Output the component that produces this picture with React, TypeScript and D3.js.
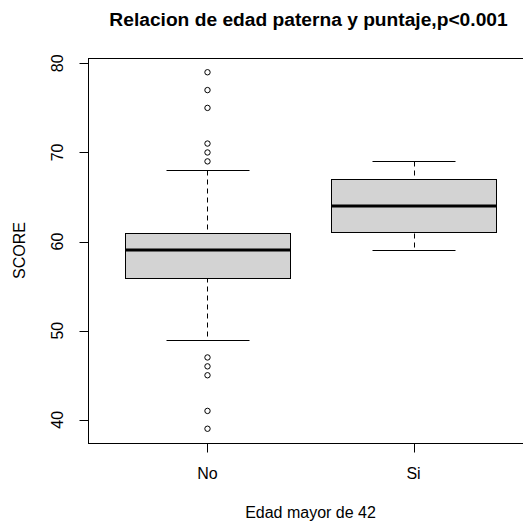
import React from 'react';
import * as d3 from 'd3';

// datos
const groups = ['No', 'Si'];
const whiskerLow = [49, 59];
const q1 = [56, 61];
const medians = [59, 64];
const q3 = [61, 67];
const whiskerHigh = [68, 69];
const outliers = [
  [79, 77, 75, 71, 70, 69, 47, 46, 45, 41, 39],
  [],
];
const yTicks = [40, 50, 60, 70, 80];

const width = 523;
const height = 522;
const left = 88;
const right = 533;
const top = 58;
const bottom = 443;
const font = '"Liberation Sans", Arial, sans-serif';

const App = () => {
  const x = d3.scaleLinear([0.42, 2.58], [left, right]);
  const y = d3.scaleLinear([37.4, 80.6], [bottom, top]);
  const px = (v: number) => Math.round(v) + 0.5;
  const boxHalf = x(1.4) - x(1);
  const capHalf = x(1.2) - x(1);

  return (
    <svg
      width={width}
      height={height}
      style={{ position: 'fixed', left: 0, top: 0, background: '#fff' }}
      fontFamily={font}
    >
      <text x={(left + right) / 2 - 2} y={26} textAnchor="middle" fontSize={19.2} fontWeight="bold" fill="#000">
        Relacion de edad paterna y puntaje,p&lt;0.001
      </text>

      {groups.map((g, i) => {
        const cx = x(i + 1);
        return (
          <g key={g}>
            <line x1={px(cx)} x2={px(cx)} y1={px(y(whiskerHigh[i]))} y2={px(y(q3[i]))} stroke="#000" strokeDasharray="5,4" />
            <line x1={px(cx)} x2={px(cx)} y1={px(y(q1[i]))} y2={px(y(whiskerLow[i]))} stroke="#000" strokeDasharray="5,4" />
            <line x1={px(cx - capHalf)} x2={px(cx + capHalf)} y1={px(y(whiskerHigh[i]))} y2={px(y(whiskerHigh[i]))} stroke="#000" />
            <line x1={px(cx - capHalf)} x2={px(cx + capHalf)} y1={px(y(whiskerLow[i]))} y2={px(y(whiskerLow[i]))} stroke="#000" />
            <rect
              x={px(cx - boxHalf)}
              y={px(y(q3[i]))}
              width={Math.round(2 * boxHalf)}
              height={Math.round(y(q1[i]) - y(q3[i]))}
              fill="#d3d3d3"
              stroke="#000"
            />
            <line x1={px(cx - boxHalf)} x2={px(cx + boxHalf)} y1={Math.round(y(medians[i]))} y2={Math.round(y(medians[i]))} stroke="#000" strokeWidth={3} />
            {outliers[i].map((v, j) => (
              <circle key={j} cx={cx} cy={y(v)} r={2.7} fill="none" stroke="#000" />
            ))}
          </g>
        );
      })}

      {/* marco */}
      <rect x={px(left)} y={px(top)} width={Math.round(right - left)} height={Math.round(bottom - top)} fill="none" stroke="#000" />

      {/* eje y */}
      {yTicks.map((t) => (
        <g key={t}>
          <line x1={px(left) - 9} x2={px(left)} y1={px(y(t))} y2={px(y(t))} stroke="#000" />
          <text transform={`translate(63,${y(t)}) rotate(-90)`} textAnchor="middle" fontSize={16} fill="#000">
            {t}
          </text>
        </g>
      ))}

      {/* eje x */}
      {groups.map((g, i) => (
        <g key={g}>
          <line x1={px(x(i + 1))} x2={px(x(i + 1))} y1={px(bottom)} y2={px(bottom) + 9} stroke="#000" />
          <text x={x(i + 1)} y={479} textAnchor="middle" fontSize={16} fill="#000">
            {g}
          </text>
        </g>
      ))}

      <text x={(left + right) / 2} y={518} textAnchor="middle" fontSize={16} fill="#000">
        Edad mayor de 42
      </text>
      <text transform={`translate(25,${(top + bottom) / 2}) rotate(-90)`} textAnchor="middle" fontSize={16} fill="#000">
        SCORE
      </text>
    </svg>
  );
};

export default App;
